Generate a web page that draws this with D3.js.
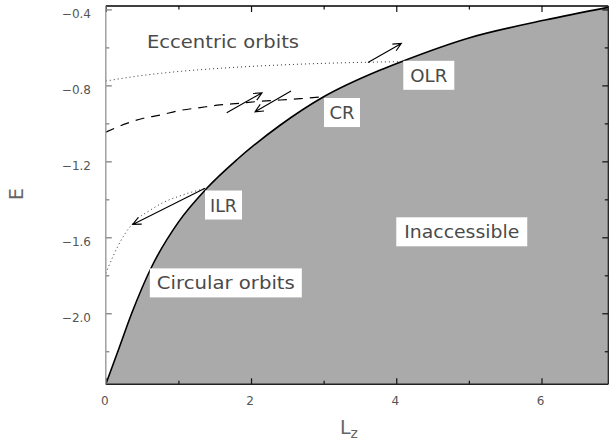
<!DOCTYPE html>
<html>
<head>
<meta charset="utf-8">
<script src="https://cdn.jsdelivr.net/npm/d3@7"></script>
<style>
  body { margin: 0; background: #fff; }
  svg { display: block; }
  text { font-family: "DejaVu Sans", "Liberation Sans", sans-serif; }
</style>
</head>
<body>
<svg id="chart" width="609" height="443"></svg>
<script>
// Energy of circular orbits as a function of angular momentum (boundary of the accessible region)
const circLz = [0, 0.168, 0.357, 0.632, 1.00, 1.39, 1.80, 2.40, 3.00, 3.78, 4.07, 5.00, 6.05, 6.92];
const circE  = [-2.374, -2.199, -2.000, -1.755, -1.52, -1.342, -1.193, -1.010, -0.860, -0.719, -0.675, -0.550, -0.456, -0.389];

// Resonance tracks in the (Lz, E) plane
const olrLz = [0, 0.5, 1.0, 1.5, 2.0, 2.5, 3.0, 3.5, 4.07];
const olrE  = [-0.777, -0.748, -0.727, -0.712, -0.700, -0.691, -0.684, -0.679, -0.675];

const crLz = [0, 0.29, 0.52, 0.75, 1.02, 1.30, 1.57, 1.85, 2.12, 2.40, 2.68, 3.00];
const crE  = [-1.046, -1.000, -0.973, -0.956, -0.932, -0.917, -0.903, -0.894, -0.884, -0.877, -0.870, -0.860];

const ilrLz = [0, 0.10, 0.25, 0.40, 0.60, 0.80, 1.00, 1.20, 1.39];
const ilrE  = [-1.79, -1.70, -1.59, -1.515, -1.46, -1.415, -1.385, -1.36, -1.342];

// Arrows showing the direction of angular-momentum exchange
const arrowFromLz = [3.61, 1.665, 2.551, 1.366];
const arrowFromE  = [-0.679, -0.944, -0.830, -1.342];
const arrowToLz   = [4.07, 2.151, 2.055, 0.371];
const arrowToE    = [-0.579, -0.839, -0.939, -1.532];

// Region labels, anchored at (Lz, E)
const labelText  = ["Eccentric orbits", "OLR", "CR", "ILR", "Circular orbits", "Inaccessible"];
const labelLz    = [1.614, 4.448, 3.253, 1.621, 1.653, 4.902];
const labelE     = [-0.569, -0.747, -0.943, -1.430, -1.840, -1.571];

// Axis ticks
const xTicksMajor = [0, 2, 4, 6];
const xTicksMinor = [1, 3, 5];
const yTicksMajor = [-0.4, -0.8, -1.2, -1.6, -2.0];
const yTicksMinor = [-0.6, -1.0, -1.4, -1.8, -2.2];

// ---- layout ----
const W = 609, H = 443;
const margin = { left: 105.8, right: 0.7, top: 6, bottom: 58.7 };
const x = d3.scaleLinear().domain([0, 6.92]).range([margin.left, W - margin.right]);
const y = d3.scaleLinear().domain([-2.374, -0.382]).range([H - margin.bottom, margin.top]);

// label text widths and box widths (px)
const labelTextWidth = [152, 37, 25, 27, 138, 115];
const labelBoxWidth  = [0, 51, 36, 37, 152, 131];
const labelBoxHeight = 29;

const svg = d3.select("#chart");

svg.append("defs").append("clipPath").attr("id", "plotClip")
  .append("rect")
  .attr("x", x.range()[0]).attr("y", y.range()[1])
  .attr("width", x.range()[1] - x.range()[0])
  .attr("height", y.range()[0] - y.range()[1]);

const plot = svg.append("g").attr("clip-path", "url(#plotClip)");

const circ = circLz.map((l, i) => ({ lz: l, e: circE[i] }));

// inaccessible region below the circular-orbit curve
plot.append("path")
  .datum(circ)
  .attr("d", d3.area().x(d => x(d.lz)).y0(y.range()[0]).y1(d => y(d.e)).curve(d3.curveMonotoneX))
  .attr("fill", "#aaaaaa");

plot.append("path")
  .datum(circ)
  .attr("d", d3.line().x(d => x(d.lz)).y(d => y(d.e)).curve(d3.curveMonotoneX))
  .attr("fill", "none").attr("stroke", "#000").attr("stroke-width", 1.6);

const track = (lzs, es) => lzs.map((l, i) => ({ lz: l, e: es[i] }));
const trackLine = d3.line().x(d => x(d.lz)).y(d => y(d.e)).curve(d3.curveMonotoneX);

plot.append("path").datum(track(olrLz, olrE)).attr("d", trackLine)
  .attr("fill", "none").attr("stroke", "#333").attr("stroke-width", 1)
  .attr("stroke-dasharray", "1,3");

plot.append("path").datum(track(crLz, crE)).attr("d", trackLine)
  .attr("fill", "none").attr("stroke", "#000").attr("stroke-width", 1.2)
  .attr("stroke-dasharray", "9,7");

plot.append("path").datum(track(ilrLz, ilrE)).attr("d", trackLine)
  .attr("fill", "none").attr("stroke", "#333").attr("stroke-width", 1)
  .attr("stroke-dasharray", "1,3");

// arrows with open heads
const headLen = 9, headAng = 25 * Math.PI / 180;
arrowFromLz.forEach((_, i) => {
  const x0 = x(arrowFromLz[i]), y0 = y(arrowFromE[i]);
  const x1 = x(arrowToLz[i]), y1 = y(arrowToE[i]);
  const th = Math.atan2(y1 - y0, x1 - x0);
  const h1 = [x1 - headLen * Math.cos(th - headAng), y1 - headLen * Math.sin(th - headAng)];
  const h2 = [x1 - headLen * Math.cos(th + headAng), y1 - headLen * Math.sin(th + headAng)];
  plot.append("path")
    .attr("d", `M${x0},${y0}L${x1},${y1}M${h1[0]},${h1[1]}L${x1},${y1}L${h2[0]},${h2[1]}`)
    .attr("fill", "none").attr("stroke", "#000").attr("stroke-width", 1.1);
});

// region labels
labelText.forEach((t, i) => {
  const cx = x(labelLz[i]), cy = y(labelE[i]);
  if (labelBoxWidth[i] > 0) {
    plot.append("rect")
      .attr("x", cx - labelBoxWidth[i] / 2).attr("y", cy - labelBoxHeight / 2)
      .attr("width", labelBoxWidth[i]).attr("height", labelBoxHeight)
      .attr("fill", "#fff");
  }
  plot.append("text")
    .attr("x", cx).attr("y", cy + 6.6)
    .attr("text-anchor", "middle")
    .attr("font-size", 18)
    .attr("fill", "#4a4a4a")
    .attr("textLength", labelTextWidth[i])
    .attr("lengthAdjust", "spacingAndGlyphs")
    .text(t);
});

// ---- axes (ticks point inward on all four sides) ----
const axes = svg.append("g");
const fmt = d => (d < 0 ? "\u2212" : "") + Math.abs(d).toFixed(d === 0 ? 0 : 1);

function styleTicks(g, color) {
  g.selectAll(".tick line").attr("stroke", color).attr("stroke-width", 1.2);
  g.select(".domain").remove();
}

// bottom
const gxMaj = axes.append("g").attr("transform", `translate(0,${y.range()[0]})`)
  .call(d3.axisBottom(x).tickValues(xTicksMajor).tickFormat(d => d3.format("d")(d)).tickSize(-6).tickSizeOuter(0).tickPadding(12));
styleTicks(gxMaj, "#111");
gxMaj.selectAll("text").attr("font-size", 12).attr("fill", "#555").attr("x", -1.5);
const gxMin = axes.append("g").attr("transform", `translate(0,${y.range()[0]})`)
  .call(d3.axisBottom(x).tickValues(xTicksMinor).tickFormat("").tickSize(-3.5).tickSizeOuter(0));
styleTicks(gxMin, "#111");

// top
const gtMaj = axes.append("g").attr("transform", `translate(0,${y.range()[1]})`)
  .call(d3.axisTop(x).tickValues(xTicksMajor).tickFormat("").tickSize(-6).tickSizeOuter(0));
styleTicks(gtMaj, "#111");
const gtMin = axes.append("g").attr("transform", `translate(0,${y.range()[1]})`)
  .call(d3.axisTop(x).tickValues(xTicksMinor).tickFormat("").tickSize(-3.5).tickSizeOuter(0));
styleTicks(gtMin, "#111");

// left
const gyMaj = axes.append("g").attr("transform", `translate(${x.range()[0]},0)`)
  .call(d3.axisLeft(y).tickValues(yTicksMajor).tickFormat(fmt).tickSize(-6).tickSizeOuter(0).tickPadding(14.8));
styleTicks(gyMaj, "#777");
gyMaj.selectAll("text").attr("font-size", 12).attr("fill", "#555").attr("y", 4);
const gyMin = axes.append("g").attr("transform", `translate(${x.range()[0]},0)`)
  .call(d3.axisLeft(y).tickValues(yTicksMinor).tickFormat("").tickSize(-3.5).tickSizeOuter(0));
styleTicks(gyMin, "#777");

// right
const grMaj = axes.append("g").attr("transform", `translate(${x.range()[1]},0)`)
  .call(d3.axisRight(y).tickValues(yTicksMajor).tickFormat("").tickSize(-6).tickSizeOuter(0));
styleTicks(grMaj, "#111");
const grMin = axes.append("g").attr("transform", `translate(${x.range()[1]},0)`)
  .call(d3.axisRight(y).tickValues(yTicksMinor).tickFormat("").tickSize(-3.5).tickSizeOuter(0));
styleTicks(grMin, "#111");

// frame
const [xl, xr] = x.range(), [yb, yt] = y.range();
axes.append("line").attr("x1", xl).attr("x2", xr).attr("y1", yt).attr("y2", yt)
  .attr("stroke", "#000").attr("stroke-width", 1.6);
axes.append("line").attr("x1", xl).attr("x2", xr).attr("y1", yb).attr("y2", yb)
  .attr("stroke", "#222").attr("stroke-width", 1.4);
axes.append("line").attr("x1", xr).attr("x2", xr).attr("y1", yt).attr("y2", yb)
  .attr("stroke", "#111").attr("stroke-width", 1.2);
axes.append("line").attr("x1", xl).attr("x2", xl).attr("y1", yt).attr("y2", yb)
  .attr("stroke", "#999").attr("stroke-width", 1.4);

// axis titles
svg.append("text")
  .attr("transform", `translate(23,194) rotate(-90)`)
  .attr("text-anchor", "middle")
  .attr("font-size", 19).attr("fill", "#666")
  .text("E");

const xt = svg.append("text")
  .attr("x", 340).attr("y", 434)
  .attr("font-size", 19).attr("fill", "#666");
xt.append("tspan").text("L");
xt.append("tspan").attr("font-size", 14).attr("dy", 4).text("z");
</script>
</body>
</html>
